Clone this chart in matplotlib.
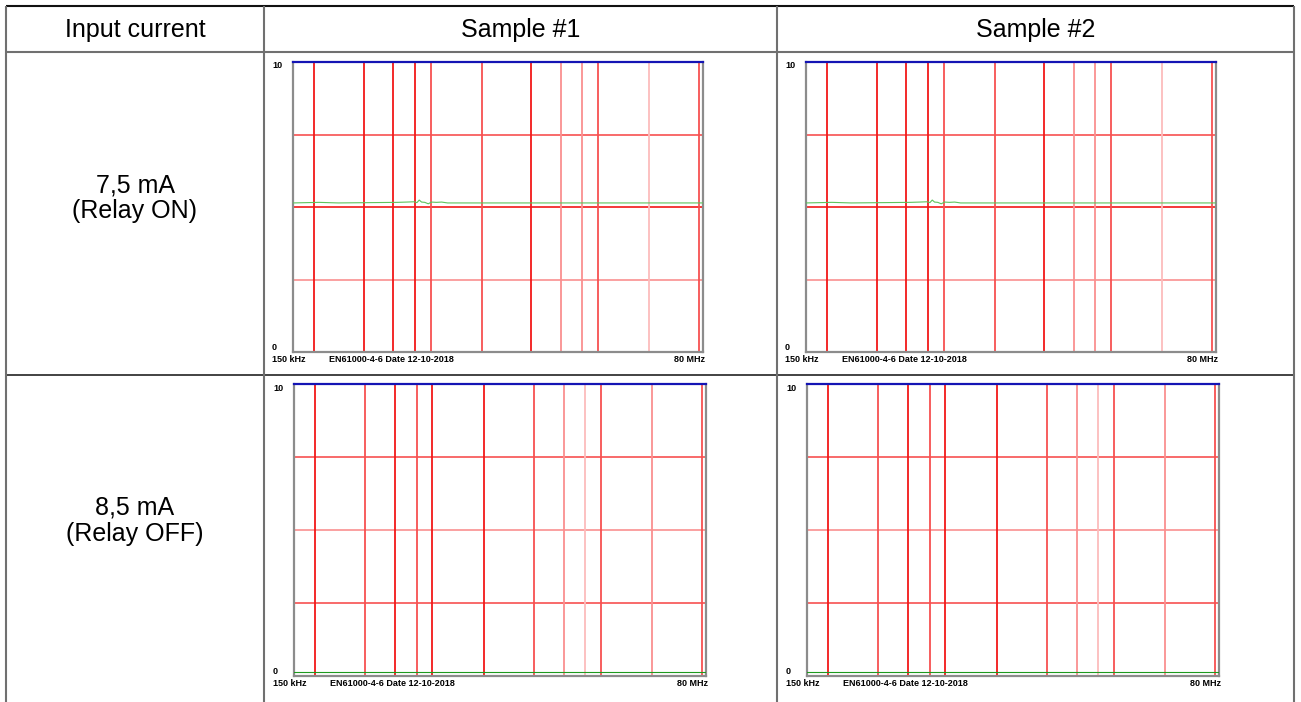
import matplotlib
matplotlib.use("Agg")
import matplotlib.pyplot as plt
from matplotlib.lines import Line2D

W, H = 1301, 702

# table contents
header = ["Input current", "Sample #1", "Sample #2"]
row_currents = ["7,5 mA", "8,5 mA"]
row_states = ["(Relay ON)", "(Relay OFF)"]

# EN61000-4-6 sweep, 150 kHz .. 80 MHz, level 0..10
f_start, f_stop = 0.15, 80.0
level_min, level_max = 0, 10
marker_freqs = [0.207, 0.446, 0.696, 0.975, 1.235, 2.70, 5.78, 9.16, 12.6, 16.1, 35.0, 74.9]
grid_levels = [2.5, 5.0, 7.5]
limit_level = 10.0

# measured trace, relay ON
on_freqs = [0.15, 0.223, 0.30, 0.743, 0.853, 0.960, 1.000, 1.037, 1.074, 1.13, 1.19, 1.25, 1.35, 1.46, 1.60, 80.0]
on_levels = [5.14, 5.16, 5.14, 5.16, 5.17, 5.18, 5.15, 5.24, 5.17, 5.16, 5.11, 5.17, 5.16, 5.17, 5.14, 5.14]
# measured trace, relay OFF
off_freqs = [0.15, 80.0]
off_levels = [0.15, 0.15]

footer_left = "150 kHz"
footer_mid = "EN61000-4-6 Date 12-10-2018"
footer_right = "80 MHz"

# line shades
STRONG, MED, LIGHT, PALE = "#f21818", "#f75050", "#fa9090", "#fcbcbc"
on_vshades = [STRONG, STRONG, STRONG, STRONG, MED, MED, STRONG, LIGHT, LIGHT, MED, PALE, MED]
off_vshades = [STRONG, MED, STRONG, MED, STRONG, STRONG, MED, LIGHT, PALE, MED, LIGHT, MED]
on_hshades = [LIGHT, STRONG, MED]
off_hshades = [MED, LIGHT, MED]

chart_font = ["Liberation Sans", "DejaVu Sans"]
table_font = ["Liberation Sans", "DejaVu Sans"]

fig = plt.figure(figsize=(W / 100, H / 100), dpi=100)
fig.patch.set_facecolor("white")


def fx(x):
    return x / W


def fy(y):
    return 1 - y / H


def table_line(x0, y0, x1, y1, color, lw):
    fig.add_artist(Line2D([fx(x0), fx(x1)], [fy(y0), fy(y1)], color=color,
                          lw=lw, transform=fig.transFigure, solid_capstyle="butt"))


def draw_chart(rect, vshades, hshades, tr_f, tr_l, tr_color):
    x0, y0, x1, y1 = rect
    ax = fig.add_axes([fx(x0), fy(y1), fx(x1) - fx(x0), fy(y0) - fy(y1)])
    ax.set_xscale("log")
    ax.set_xlim(f_start, f_stop)
    ax.set_ylim(level_min, level_max)
    ax.set_xticks([])
    ax.set_yticks([])
    ax.minorticks_off()
    for s in ["left", "right", "bottom"]:
        ax.spines[s].set_color("#8c8c8c")
        ax.spines[s].set_linewidth(1.6)
    ax.spines["top"].set_visible(False)

    for lvl, c in zip(grid_levels, hshades):
        ax.axhline(lvl, color=c, lw=1.2, zorder=1)
    for f, c in zip(marker_freqs, vshades):
        ax.axvline(f, color=c, lw=1.3, zorder=2)
    ax.plot(tr_f, tr_l, color=tr_color, lw=0.8, zorder=3)
    ax.plot([f_start, f_stop], [limit_level, limit_level], color="#1414b4",
            lw=1.6, zorder=4, clip_on=False)

    tkw = dict(xycoords="axes fraction", textcoords="offset points",
               fontsize=6.5, fontweight="bold", family=chart_font, color="black")
    px = 0.72
    ax.annotate("10", (0, 1), xytext=(-21 * px, -4 * px), ha="left", va="center", **tkw)
    ax.annotate("0", (0, 0), xytext=(-21 * px, 4 * px), ha="left", va="center", **tkw)
    ax.annotate(footer_left, (0, 0), xytext=(-21 * px, -7 * px), ha="left", va="center", **tkw)
    ax.annotate(footer_mid, (0, 0), xytext=(36 * px, -7 * px), ha="left", va="center", **tkw)
    ax.annotate(footer_right, (1, 0), xytext=(2 * px, -7 * px), ha="right", va="center", **tkw)
    return ax


# charts: relay ON row, relay OFF row
draw_chart((293, 62, 703, 352), on_vshades, on_hshades, on_freqs, on_levels, "#5cc45c")
draw_chart((806, 62, 1216, 352), on_vshades, on_hshades, on_freqs, on_levels, "#5cc45c")
draw_chart((294, 384, 706, 676), off_vshades, off_hshades, off_freqs, off_levels, "#1f9a1f")
draw_chart((807, 384, 1219, 676), off_vshades, off_hshades, off_freqs, off_levels, "#1f9a1f")

# table grid
table_line(6, 6, 1294, 6, "#111111", 1.5)
table_line(6, 52, 1294, 52, "#707070", 1.5)
table_line(6, 375, 1294, 375, "#222222", 1.2)
for xv in [6, 264, 777, 1294]:
    table_line(xv, 6, xv, 702, "#707070", 1.5)

tkw = dict(fontsize=18, family=table_font, ha="center", color="black")
for xc, txt in zip([135, 520.5, 1035.5], header):
    fig.text(fx(xc), fy(37), txt, va="baseline", **tkw)
for base, cur, st in zip([192, 515], row_currents, row_states):
    fig.text(fx(135), fy(base), cur, va="baseline", **tkw)
    fig.text(fx(135), fy(base + 26), st, va="baseline", **tkw)

fig.savefig("out.png", dpi=100, facecolor="white")
